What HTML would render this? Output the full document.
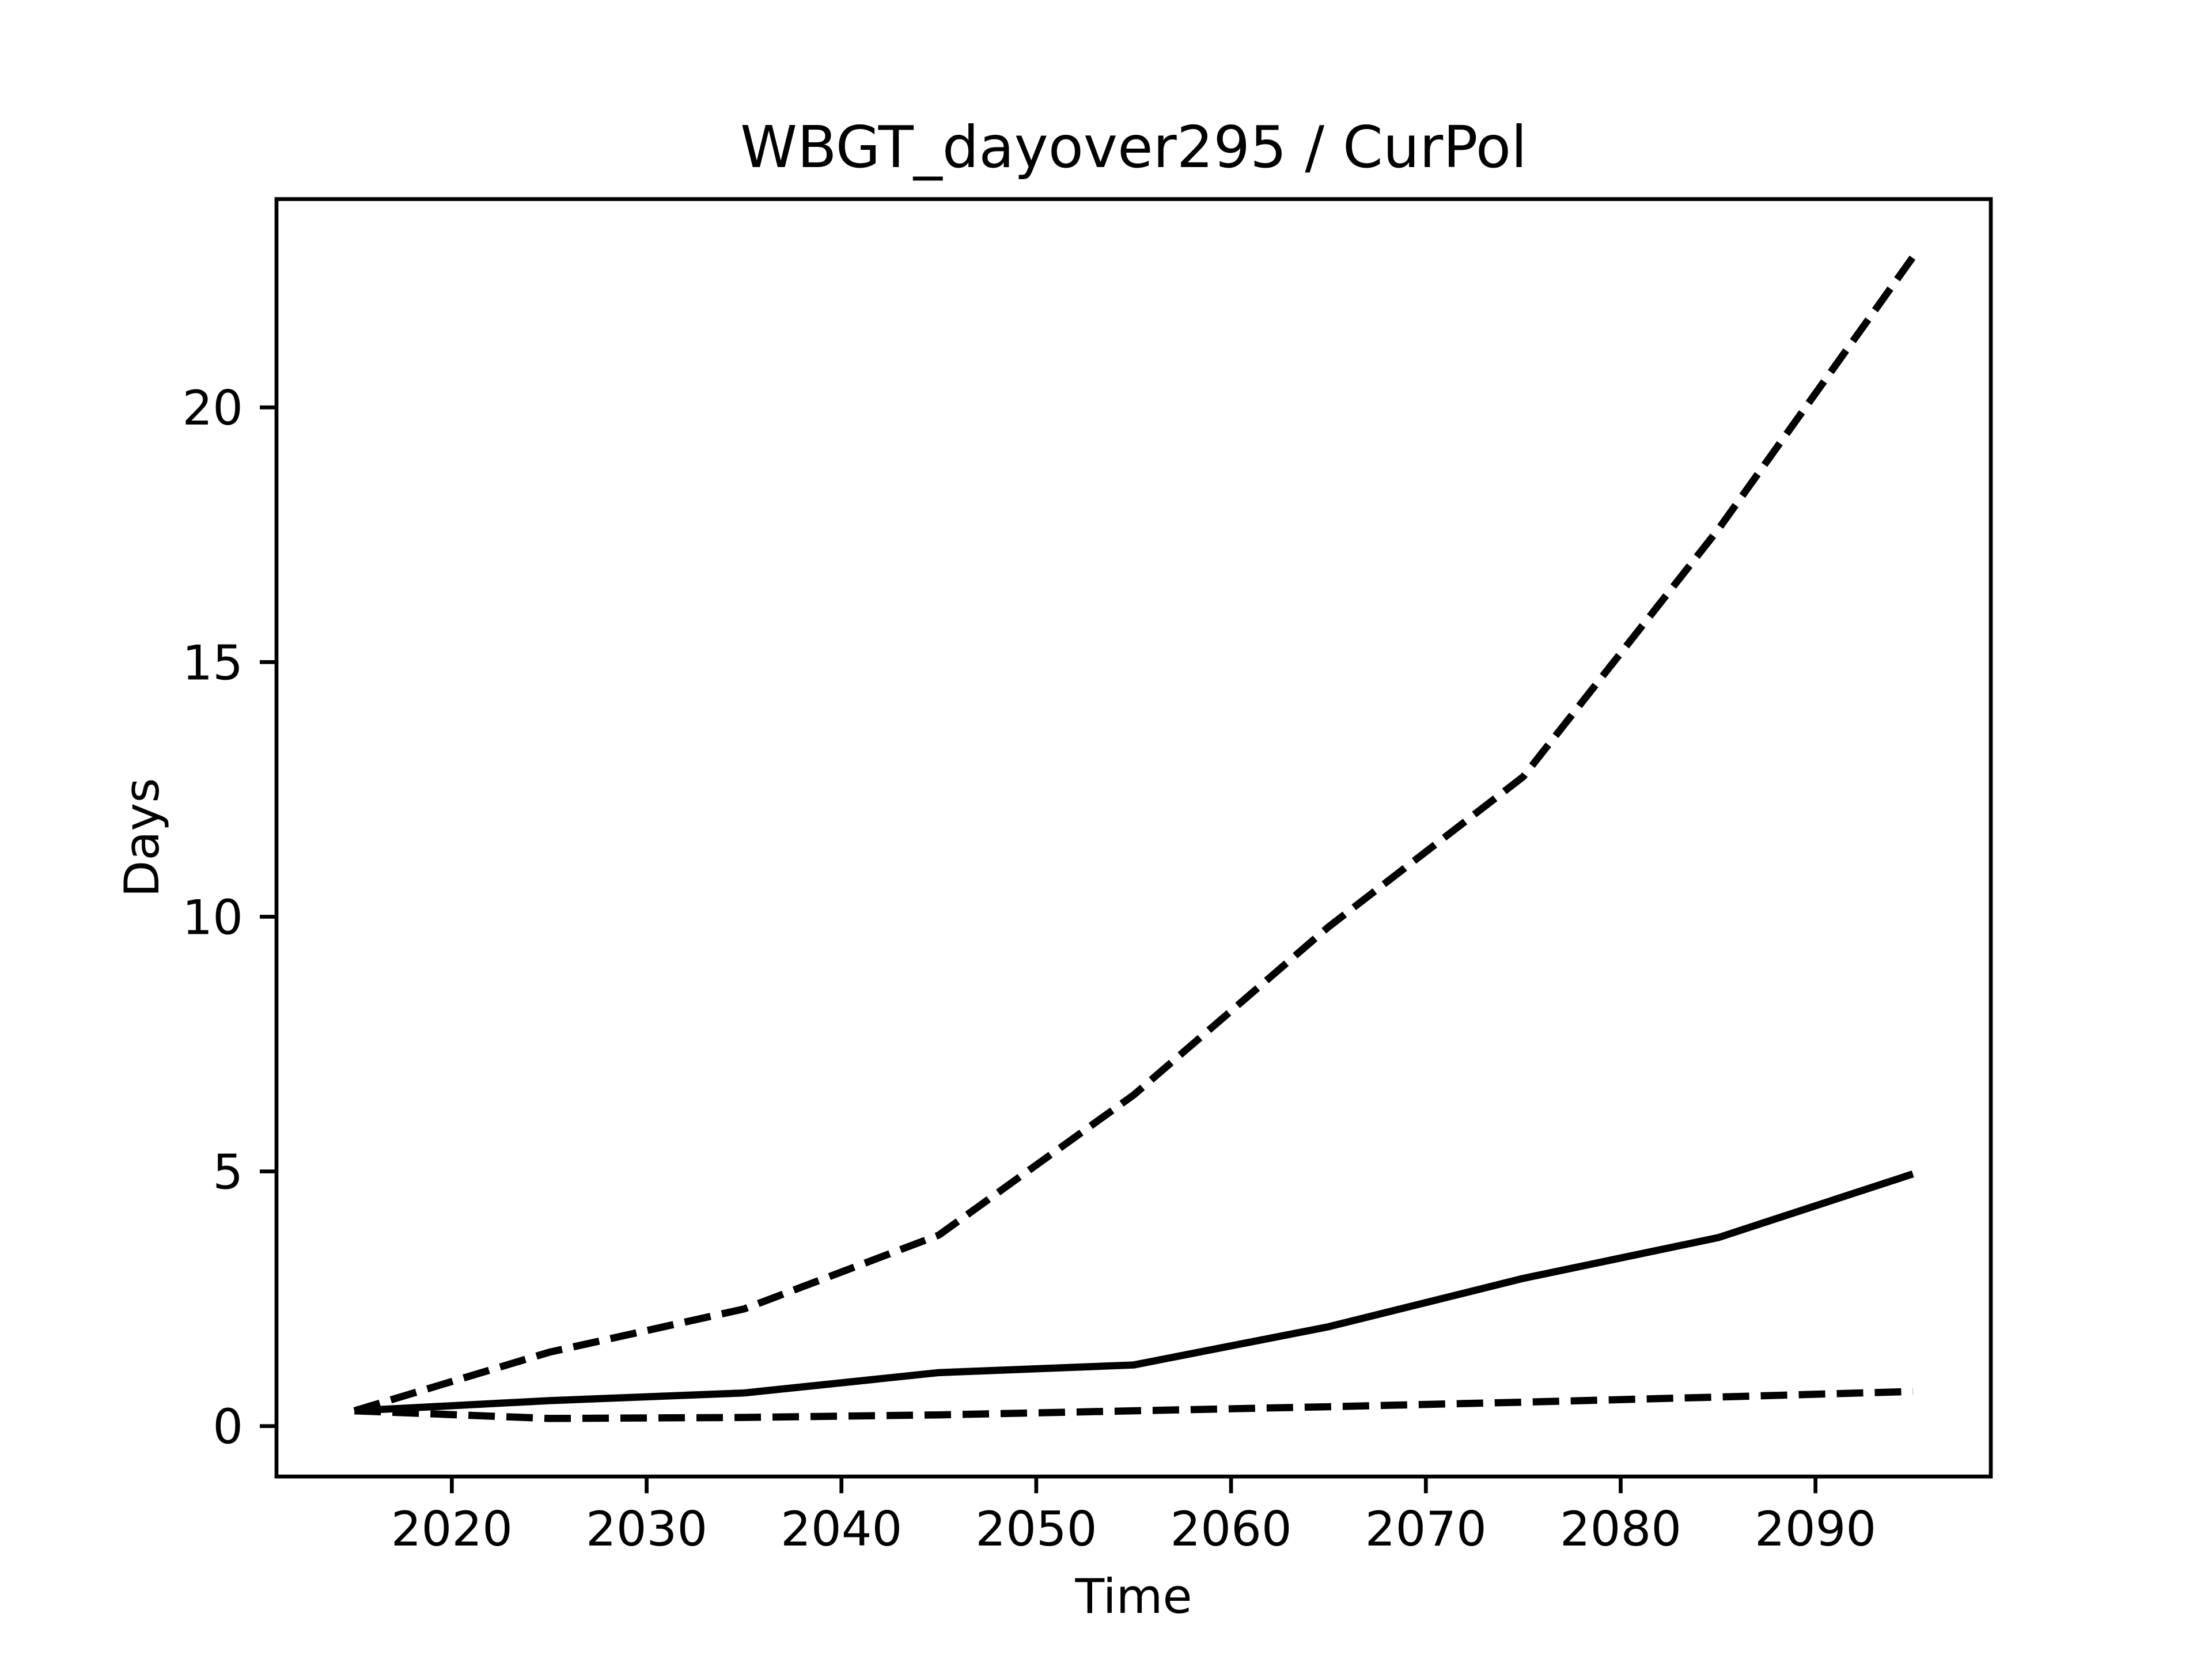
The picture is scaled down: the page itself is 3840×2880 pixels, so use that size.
<!DOCTYPE html>
<html>
<head>
<meta charset="utf-8">
<style>
html,body{margin:0;padding:0;background:#fff;}
svg{display:block;font-family:"DejaVu Sans","Liberation Sans",sans-serif;}
</style>
</head>
<body>
<svg id="chart" width="3840" height="2880" viewBox="0 0 3840 2880" xmlns="http://www.w3.org/2000/svg">
<rect x="0" y="0" width="3840" height="2880" fill="#fff"/>
<text x="1968" y="290" font-size="100" text-anchor="middle" fill="#000">WBGT_dayover295 / CurPol</text>
<g id="plot"></g>
<rect x="480" y="345.6" width="2976" height="2217.6" fill="none" stroke="#000" stroke-width="6.7"/>
<text x="1968" y="2800" font-size="83" text-anchor="middle" fill="#000">Time</text>
<text x="275" y="1454" font-size="83" text-anchor="middle" fill="#000" transform="rotate(-90 275 1454)">Days</text>
</svg>
<script>
const years = [2015, 2025, 2035, 2045, 2055, 2065, 2075, 2085, 2095];
const upperValues = [0.3, 1.45, 2.3, 3.75, 6.5, 9.8, 12.75, 17.6, 22.95];
const medianValues = [0.3, 0.5, 0.65, 1.05, 1.2, 1.95, 2.9, 3.7, 4.95];
const lowerValues = [0.3, 0.15, 0.17, 0.22, 0.3, 0.38, 0.47, 0.57, 0.68];
const xTicks = [2020, 2030, 2040, 2050, 2060, 2070, 2080, 2090];
const yTicks = [0, 5, 10, 15, 20];

const NS = 'http://www.w3.org/2000/svg';
const L = 480, R = 3456, T = 345.6, B = 2563.2;
const allV = upperValues.concat(medianValues, lowerValues);
const xmin0 = Math.min(...years), xmax0 = Math.max(...years);
const ymin0 = Math.min(...allV), ymax0 = Math.max(...allV);
const xr = xmax0 - xmin0, yr = ymax0 - ymin0;
const xlo = xmin0 - 0.05 * xr, xhi = xmax0 + 0.05 * xr;
const ylo = ymin0 - 0.05 * yr, yhi = ymax0 + 0.05 * yr;
const sx = v => L + (v - xlo) / (xhi - xlo) * (R - L);
const sy = v => B - (v - ylo) / (yhi - ylo) * (B - T);
const g = document.getElementById('plot');

function line(vals, name, dashed) {
  const p = document.createElementNS(NS, 'polyline');
  
  
  p.setAttribute('points', years.map((y, i) => sx(y) + ',' + sy(vals[i])).join(' '));
  p.setAttribute('fill', 'none');
  p.setAttribute('stroke', '#000');
  p.setAttribute('stroke-width', '12.5');
  p.setAttribute('stroke-linejoin', 'round');
  if (dashed) p.setAttribute('stroke-dasharray', '46 20');
  g.appendChild(p);
}
line(upperValues, 'upper-bound-line', true);
line(medianValues, 'median-line', false);
line(lowerValues, 'lower-bound-line', true);

xTicks.forEach(t => {
  const x = sx(t);
  const tk = document.createElementNS(NS, 'line');
  
  
  tk.setAttribute('x1', x); tk.setAttribute('x2', x);
  tk.setAttribute('y1', B); tk.setAttribute('y2', B + 29);
  tk.setAttribute('stroke', '#000'); tk.setAttribute('stroke-width', '6.7');
  g.appendChild(tk);
  const tx = document.createElementNS(NS, 'text');
  
  
  tx.setAttribute('x', x); tx.setAttribute('y', B + 29 + 29 + 62);
  tx.setAttribute('font-size', '83'); tx.setAttribute('text-anchor', 'middle');
  tx.textContent = t;
  g.appendChild(tx);
});
yTicks.forEach(t => {
  const y = sy(t);
  const tk = document.createElementNS(NS, 'line');
  
  
  tk.setAttribute('x1', L - 29); tk.setAttribute('x2', L);
  tk.setAttribute('y1', y); tk.setAttribute('y2', y);
  tk.setAttribute('stroke', '#000'); tk.setAttribute('stroke-width', '6.7');
  g.appendChild(tk);
  const tx = document.createElementNS(NS, 'text');
  
  
  tx.setAttribute('x', L - 29 - 29); tx.setAttribute('y', y + 30);
  tx.setAttribute('font-size', '83'); tx.setAttribute('text-anchor', 'end');
  tx.textContent = t;
  g.appendChild(tx);
});
</script>
</body>
</html>
